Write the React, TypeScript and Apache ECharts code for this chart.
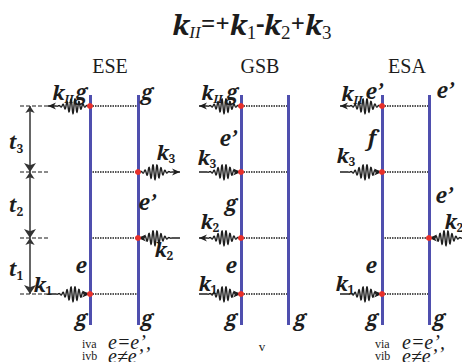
import React, { useEffect, useRef } from "react";
import * as echarts from "echarts";

const W = 462;
const H = 362;
const SERIF = "Liberation Serif";
const BSERIF = "Noto Serif";

// Diagram columns
const diagramNames = ["ESE", "GSB", "ESA"];
const headerX = [110, 260, 407];
const ketX = [90, 241, 382];
const braX = [138, 288, 429];
const lineSpan = [95, 325];
// interaction times (top to bottom): kII, k3, k2, k1
const levelY = [106, 172, 238, 294];
// [diagram, level, side (0 ket / 1 bra), incoming (1) / outgoing (0)]
const interactions: number[][] = [
  [0, 0, 0, 0], [0, 1, 1, 0], [0, 2, 1, 1], [0, 3, 0, 1],
  [1, 0, 0, 0], [1, 1, 0, 1], [1, 2, 0, 0], [1, 3, 0, 1],
  [2, 0, 0, 0], [2, 1, 0, 1], [2, 2, 1, 1], [2, 3, 0, 1],
];
// time axis
const timeAxisX = 30;
const timeTickSpan = [20, 48];
const timeLabels: [string, number, number][] = [
  ["3", 16, 142], ["2", 16, 205], ["1", 16, 269],
];
// state labels
const stateLabels: [string, number, number][] = [
  ["g", 81, 92], ["g", 147, 92], ["e’", 147, 202], ["e", 81, 265], ["g", 81, 318], ["g", 147, 318],
  ["g", 232, 92], ["e’", 228, 138], ["g", 231, 203], ["e", 231, 265], ["g", 231, 318], ["g", 300, 318],
  ["e’", 374, 91], ["e’", 445, 90], ["f", 372, 138], ["e’", 444, 195], ["e", 371, 265], ["g", 372, 318], ["g", 439, 318],
];
// field labels (subscript of k)
const fieldLabels: [string, number, number][] = [
  ["II", 63, 92], ["3", 166, 152], ["2", 164, 249], ["1", 43, 284],
  ["II", 212, 92], ["3", 207, 157], ["2", 210, 221], ["1", 208, 283],
  ["II", 352, 93], ["3", 346, 155], ["2", 454, 221], ["1", 345, 283],
];
const conditionTags: [string, number, number][] = [
  ["iva", 82, 344], ["ivb", 82, 356], ["via", 375, 344], ["vib", 375, 356],
];
const conditionEqs: [string, number, number][] = [
  ["e=e’,", 108, 342], ["e≠e’", 108, 356], ["e=e’,", 402, 342], ["e≠e’", 402, 356],
];
const pathwayLabel: [string, number, number] = ["v", 262, 346];
// title pieces: [text, kind]
const titlePieces: [string, string][] = [
  ["k", "T"], ["II", "TR"], ["=+", "TO"], ["k", "T"], ["1", "TD"], ["-", "TO"],
  ["k", "T"], ["2", "TD"], ["+", "TO"], ["k", "T"], ["3", "TD"],
];

const WAVE_LEN = 42;
const WAVE_AMP = 7.5;
const WAVE_LAMBDA = 4;

type FontSpec = { family: string; size: number; weight: string; style: string; dy: number };
const FONTS: Record<string, FontSpec> = {
  k: { family: BSERIF, size: 20, weight: "bold", style: "italic", dy: 0 },
  n: { family: BSERIF, size: 12, weight: "bold", style: "normal", dy: 6 },
  r: { family: BSERIF, size: 11, weight: "bold", style: "italic", dy: 6 },
  s: { family: BSERIF, size: 21, weight: "bold", style: "italic", dy: 0 },
  t: { family: BSERIF, size: 19, weight: "bold", style: "italic", dy: 0 },
  T: { family: BSERIF, size: 28, weight: "bold", style: "italic", dy: 0 },
  TO: { family: BSERIF, size: 26, weight: "bold", style: "normal", dy: -1 },
  TD: { family: SERIF, size: 19, weight: "normal", style: "normal", dy: 8 },
  TR: { family: SERIF, size: 17, weight: "normal", style: "italic", dy: 8 },
};

let measureCtx: CanvasRenderingContext2D | null = null;
function measure(text: string, f: FontSpec) {
  if (!measureCtx) measureCtx = document.createElement("canvas").getContext("2d");
  if (!measureCtx) return text.length * f.size * 0.5;
  measureCtx.font = `${f.style} ${f.weight} ${f.size}px "${f.family}"`;
  return measureCtx.measureText(text).width;
}

export default function App() {
  const ref = useRef<HTMLDivElement>(null);
  useEffect(() => {
    if (!ref.current) return;
    const chart = echarts.init(ref.current, undefined, { renderer: "svg", width: W, height: H });

    const verticalLines: any[] = [];
    diagramNames.forEach((_, d) => {
      verticalLines.push({ coords: [[ketX[d], lineSpan[0]], [ketX[d], lineSpan[1]]] });
      verticalLines.push({ coords: [[braX[d], lineSpan[0]], [braX[d], lineSpan[1]]] });
    });
    const dotted = interactions.map(([d, l]) => ({
      coords: [[ketX[d], levelY[l]], [braX[d], levelY[l]]],
    }));
    const dots = interactions.map(([d, l, s]) => [s === 0 ? ketX[d] : braX[d], levelY[l]]);
    const waves = interactions.map(([d, l, s, inc]) => [
      s === 0 ? ketX[d] : braX[d], levelY[l], s === 0 ? -1 : 1, inc,
    ]);
    const timeTicks = levelY.map((y) => ({ coords: [[timeTickSpan[0], y], [timeTickSpan[1], y]] }));
    const timeArrows = levelY.slice(0, -1).map((y, i) => ({
      coords: [[timeAxisX, y], [timeAxisX, levelY[i + 1]]],
    }));

    const C = "#1c1c1c";
    const graphics: any[] = [];

    // compose a label from pieces, centred on (cx, cy)
    const compose = (pieces: [string, string][], cx: number, cy: number) => {
      const widths = pieces.map(([t, k]) => measure(t, FONTS[k]));
      const total = widths.reduce((a, b) => a + b, 0);
      let x = cx - total / 2;
      pieces.forEach(([t, k], i) => {
        const f = FONTS[k];
        graphics.push({
          type: "text",
          x,
          y: cy + f.dy,
          z: 100,
          style: {
            text: t, fontFamily: f.family, fontSize: f.size, fontWeight: f.weight, fontStyle: f.style,
            fill: C, align: "left", verticalAlign: "middle",
          },
        });
        x += widths[i];
      });
    };
    const plainText = (text: string, x: number, y: number, size: number, italic: boolean, align = "center") => ({
      type: "text",
      x,
      y,
      z: 100,
      style: {
        text, fontFamily: SERIF, fontSize: size, fontStyle: italic ? "italic" : "normal",
        fill: C, align, verticalAlign: "middle",
      },
    });

    compose(titlePieces, 252, 24);
    diagramNames.forEach((name, d) => graphics.push(plainText(name, headerX[d], 66, 20, false)));
    timeLabels.forEach(([sub, x, y]) => compose([["t", "t"], [sub, "n"]], x, y));
    stateLabels.forEach(([s, x, y]) => compose([[s, "s"]], x, y));
    fieldLabels.forEach(([sub, x, y]) => compose([["k", "k"], [sub, sub === "II" ? "r" : "n"]], x, y));
    conditionTags.forEach(([a, x, y]) => graphics.push(plainText(a, x, y, 12, false, "left")));
    conditionEqs.forEach(([a, x, y]) => graphics.push(plainText(a, x, y, 20, true, "left")));
    graphics.push(plainText(pathwayLabel[0], pathwayLabel[1], pathwayLabel[2], 13, false));

    const option: any = {
      animation: false,
      backgroundColor: "#ffffff",
      textStyle: { fontFamily: SERIF },
      grid: { left: 0, right: 0, top: 0, bottom: 0 },
      xAxis: { type: "value", min: 0, max: W, show: false },
      yAxis: { type: "value", min: 0, max: H, inverse: true, show: false },
      graphic: { elements: graphics },
      series: [
        {
          type: "lines",
          coordinateSystem: "cartesian2d",
          data: timeTicks,
          lineStyle: { color: "#666", width: 1.5, type: [4, 2], opacity: 1 },
          silent: true,
          z: 1,
        },
        {
          type: "lines",
          coordinateSystem: "cartesian2d",
          data: timeArrows,
          symbol: ["arrow", "arrow"],
          symbolSize: [7, 9],
          lineStyle: { color: "#333", width: 1.5, opacity: 1 },
          itemStyle: { color: "#222" },
          silent: true,
          z: 2,
        },
        {
          type: "lines",
          coordinateSystem: "cartesian2d",
          data: dotted,
          lineStyle: { color: "#555", width: 2, type: [1.5, 1], opacity: 1 },
          silent: true,
          z: 2,
        },
        {
          type: "lines",
          coordinateSystem: "cartesian2d",
          data: verticalLines,
          lineStyle: { color: "#4f4fae", width: 3, opacity: 1 },
          silent: true,
          z: 3,
        },
        {
          type: "custom",
          coordinateSystem: "cartesian2d",
          data: waves,
          clip: false,
          silent: true,
          z: 4,
          renderItem: (params: any, api: any) => {
            const xl = api.value(0);
            const y = api.value(1);
            const side = api.value(2);
            const inc = api.value(3);
            const pLine = api.coord([xl, y]);
            const pFar = api.coord([xl + side * WAVE_LEN, y]);
            const pts: number[][] = [];
            const N = 200;
            for (let i = 0; i <= N; i++) {
              const s = i / N; // 0 at far end, 1 at line
              const px = pFar[0] + (pLine[0] - pFar[0]) * s;
              const env = Math.exp(-Math.pow((s - 0.6) / 0.2, 2));
              const py = pLine[1] + WAVE_AMP * env * Math.sin((2 * Math.PI * s * WAVE_LEN) / WAVE_LAMBDA);
              pts.push([px, py]);
            }
            const head = inc ? pLine : pFar;
            const tail = inc ? pFar : pLine;
            const dir = Math.sign(head[0] - tail[0]);
            const hl = 8;
            const hw = 3.5;
            const tri = [
              [head[0], head[1]],
              [head[0] - dir * hl, head[1] - hw],
              [head[0] - dir * hl * 0.7, head[1]],
              [head[0] - dir * hl, head[1] + hw],
            ];
            return {
              type: "group",
              children: [
                { type: "polyline", shape: { points: pts }, style: { stroke: "#1e1e1e", lineWidth: 1.4, fill: "none" } },
                { type: "polygon", shape: { points: tri }, style: { fill: "#1e1e1e" } },
              ],
            };
          },
        },
        {
          type: "scatter",
          data: dots,
          symbol: "circle",
          symbolSize: 6,
          itemStyle: { color: "#e8302a", opacity: 1 },
          silent: true,
          z: 5,
        },
      ],
    };
    chart.setOption(option);
    return () => chart.dispose();
  }, []);

  return (
    <div
      ref={ref}
      style={{ position: "fixed", left: 0, top: 0, width: W, height: H, background: "#fff" }}
    />
  );
}
